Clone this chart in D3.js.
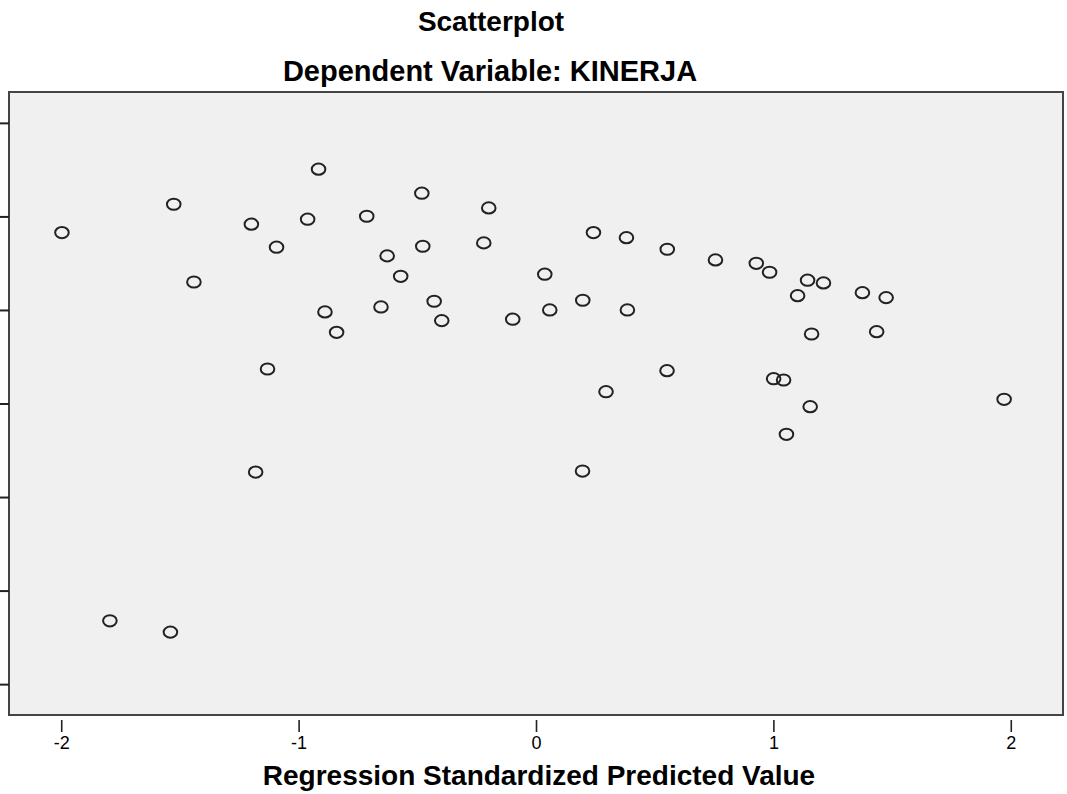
<!DOCTYPE html>
<html>
<head>
<meta charset="utf-8">
<script src="https://cdn.jsdelivr.net/npm/d3@7"></script>
<style>
  body { margin: 0; background: #fff; }
  svg { display: block; font-family: Arial, "Liberation Sans", sans-serif; }
</style>
</head>
<body>
<svg id="chart"></svg>
<script>
const width = 1067, height = 794;

// Regression standardized predicted value (x) vs studentized residual (y)
const predicted = [
  -0.916, -1.526, -1.997, -1.199, -0.962, -0.713, -1.093, -1.441, -0.889, -0.840,
  -0.481, -0.199, 0.242, 0.381, 0.553, -0.477, -0.220, -0.627, -0.570, 0.037,
  -0.653, -0.429, -0.397, -0.098, 0.058, 0.197, 0.385, 0.756, 0.928, 0.984,
  1.144, 1.211, 1.102, 1.375, 1.475, 1.161, 1.435, -1.131, -1.181, -1.795,
  -1.540, 0.295, 0.552, 1.001, 1.043, 1.155, 1.055, 1.972, 0.196
];
const residual = [
  2.505, 2.130, 1.827, 1.917, 1.970, 2.002, 1.671, 1.299, 0.979, 0.761,
  2.248, 2.091, 1.827, 1.773, 1.649, 1.681, 1.717, 1.578, 1.360, 1.382,
  1.032, 1.093, 0.886, 0.901, 1.000, 1.104, 1.000, 1.535, 1.499, 1.403,
  1.318, 1.289, 1.153, 1.185, 1.132, 0.743, 0.768, 0.369, -0.733, -2.323,
  -2.444, 0.126, 0.351, 0.265, 0.251, -0.034, -0.329, 0.045, -0.722
];
const xTicks = [-2, -1, 0, 1, 2];
const yTicks = [-3, -2, -1, 0, 1, 2, 3];

const points = predicted.map((d, i) => ({ x: d, y: residual[i] }));

// Plot frame in pixels
const frame = { left: 9, right: 1063, top: 92, bottom: 715 };

const svg = d3.select("#chart")
    .attr("width", width)
    .attr("height", height);

const xScale = d3.scaleLinear().domain([-2.22, 2.22]).range([frame.left, frame.right]);
const yScale = d3.scaleLinear().domain([-3.33, 3.33]).range([frame.bottom, frame.top]);

// Titles
svg.append("text")
    .attr("x", 491)
    .attr("y", 31)
    .attr("text-anchor", "middle")
    .attr("font-size", 28)
    .attr("font-weight", "bold")
    .attr("fill", "#000")
    .text("Scatterplot");

svg.append("text")
    .attr("x", 490)
    .attr("y", 81)
    .attr("text-anchor", "middle")
    .attr("font-size", 29)
    .attr("font-weight", "bold")
    .attr("fill", "#000")
    .text("Dependent Variable: KINERJA");

// Plot background and border
svg.append("rect")
    .attr("x", frame.left)
    .attr("y", frame.top)
    .attr("width", frame.right - frame.left)
    .attr("height", frame.bottom - frame.top)
    .attr("fill", "#f0f0f0")
    .attr("stroke", "#444")
    .attr("stroke-width", 2);

// x axis (ticks sit just below the frame)
const xAxis = svg.append("g")
    .attr("transform", `translate(0,${frame.bottom + 5})`)
    .call(d3.axisBottom(xScale).tickValues(xTicks).tickSize(12).tickPadding(4).tickFormat(d3.format("d")));
xAxis.select(".domain").remove();
xAxis.selectAll("line").attr("stroke", "#222").attr("stroke-width", 1.6);
xAxis.selectAll("text")
    .attr("font-size", 18)
    .attr("font-family", "Arial, 'Liberation Sans', sans-serif")
    .attr("fill", "#000")
    .text(d => d < 0 ? "-" + Math.abs(d) : d);

// y axis (its labels are cropped away in the picture, only ticks remain)
const yAxis = svg.append("g")
    .attr("transform", `translate(${frame.left},0)`)
    .call(d3.axisLeft(yScale).tickValues(yTicks).tickSize(14).tickFormat(""));
yAxis.select(".domain").remove();
yAxis.selectAll("line").attr("stroke", "#222").attr("stroke-width", 2);

// Axis title
svg.append("text")
    .attr("x", 539)
    .attr("y", 785)
    .attr("text-anchor", "middle")
    .attr("font-size", 28)
    .attr("font-weight", "bold")
    .attr("fill", "#000")
    .text("Regression Standardized Predicted Value");

// Points
svg.append("g")
    .selectAll("ellipse")
    .data(points)
    .enter()
    .append("ellipse")
    .attr("cx", d => xScale(d.x))
    .attr("cy", d => yScale(d.y))
    .attr("rx", 6.8)
    .attr("ry", 5.6)
    .attr("fill", "none")
    .attr("stroke", "#222")
    .attr("stroke-width", 2);
</script>
</body>
</html>
